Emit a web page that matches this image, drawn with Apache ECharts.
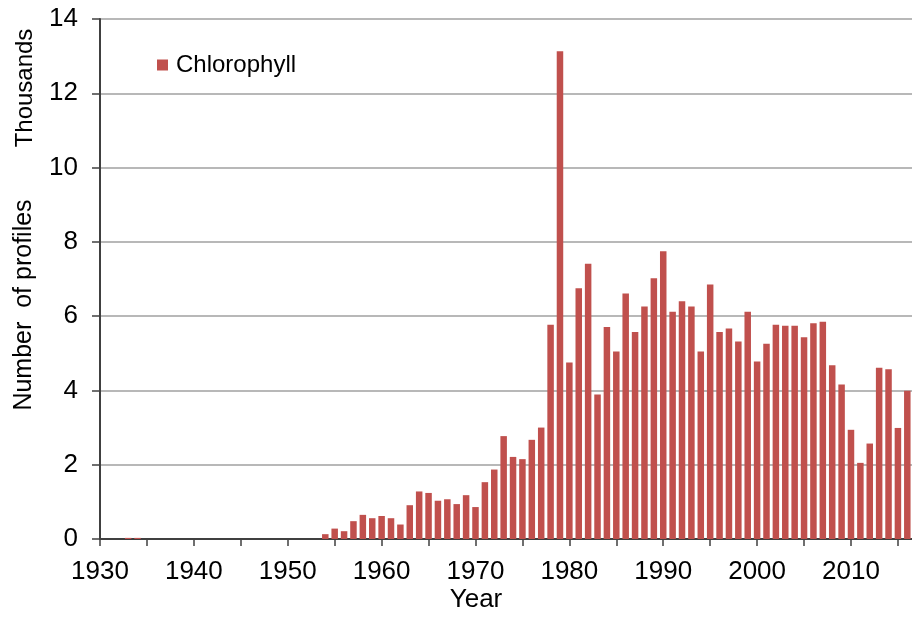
<!DOCTYPE html>
<html>
<head>
<meta charset="utf-8">
<title>Chlorophyll profiles per year</title>
<script src="https://cdn.jsdelivr.net/npm/echarts@6/dist/echarts.min.js"></script>
<style>
    html, body { margin: 0; padding: 0; background: #fff; }
    #chart { width: 912px; height: 618px; }
</style>
</head>
<body>
<div id="chart"></div>
<script>
// number of profiles per year, in thousands
const years = [
    1933, 1934,
    1954, 1955, 1956, 1957, 1958, 1959, 1960, 1961, 1962, 1963,
    1964, 1965, 1966, 1967, 1968, 1969, 1970, 1971, 1972, 1973,
    1974, 1975, 1976, 1977, 1978, 1979, 1980, 1981, 1982, 1983,
    1984, 1985, 1986, 1987, 1988, 1989, 1990, 1991, 1992, 1993,
    1994, 1995, 1996, 1997, 1998, 1999, 2000, 2001, 2002, 2003,
    2004, 2005, 2006, 2007, 2008, 2009, 2010, 2011, 2012, 2013,
    2014, 2015, 2016,
];
const chlorophyll = [
    0.03, 0.03,
    0.13, 0.28, 0.21, 0.48, 0.65, 0.56, 0.62, 0.56, 0.39, 0.91,
    1.28, 1.24, 1.03, 1.07, 0.94, 1.18, 0.86, 1.53, 1.87, 2.77,
    2.21, 2.15, 2.67, 3.00, 5.77, 13.13, 4.75, 6.75, 7.41, 3.89,
    5.71, 5.05, 6.61, 5.57, 6.26, 7.02, 7.75, 6.12, 6.40, 6.26,
    5.05, 6.85, 5.57, 5.67, 5.32, 6.12, 4.78, 5.26, 5.77, 5.74,
    5.74, 5.43, 5.81, 5.85, 4.68, 4.16, 2.94, 2.05, 2.57, 4.61,
    4.57, 2.99, 3.99,
];
const yTicks = [0, 2, 4, 6, 8, 10, 12, 14];

const FONT = "Liberation Sans, Arial, sans-serif";
const BAR_COLOR = "#C0504D";

let chartDom = document.getElementById("chart");
let myChart = echarts.init(chartDom);

let seriesData = years.map((y, i) => [y, chlorophyll[i]]);

let option = {
    animation: false,
    textStyle: { fontFamily: FONT },
    grid: {
        left: 100,
        right: 0,
        top: 19,
        bottom: 79,
        containLabel: false,
    },
    legend: {
        left: 152,
        top: 48,
        icon: "rect",
        itemWidth: 11,
        itemHeight: 11,
        textStyle: {
            fontSize: 24,
            color: "#000",
            fontFamily: FONT,
            padding: [0, 0, 0, 3],
        },
        data: ["Chlorophyll"],
    },
    xAxis: {
        type: "value",
        min: 1930,
        max: 2016.5,
        interval: 5,
        splitLine: { show: false },
        axisLine: { show: true, lineStyle: { color: "#404040", width: 2 } },
        axisTick: { show: true, length: 7, lineStyle: { color: "#404040", width: 1.5 } },
        axisLabel: {
            margin: 20,
            fontSize: 26,
            color: "#000",
            showMaxLabel: false,
            formatter: (v) => (v % 10 === 0 ? String(v) : ""),
        },
    },
    yAxis: {
        type: "value",
        min: yTicks[0],
        max: yTicks[yTicks.length - 1],
        interval: 2,
        axisLine: { show: true, lineStyle: { color: "#404040", width: 2 } },
        axisTick: { show: true, length: 8, lineStyle: { color: "#404040", width: 1.5 } },
        axisLabel: { margin: 22, fontSize: 26, color: "#000" },
        splitLine: { show: true, lineStyle: { color: "#a0a0a0", width: 1.5 } },
    },
    graphic: [
        {
            type: "text",
            x: 25,
            y: 88,
            rotation: Math.PI / 2,
            style: {
                text: "Thousands",
                font: "24px " + FONT,
                fill: "#000",
                align: "center",
                verticalAlign: "middle",
            },
        },
        {
            type: "text",
            x: 24,
            y: 305,
            rotation: Math.PI / 2,
            style: {
                text: "Number  of profiles",
                font: "25px " + FONT,
                fill: "#000",
                align: "center",
                verticalAlign: "middle",
            },
        },
        {
            type: "text",
            x: 476,
            y: 600,
            style: {
                text: "Year",
                font: "26px " + FONT,
                fill: "#000",
                align: "center",
                verticalAlign: "middle",
            },
        },
    ],
    series: [
        {
            name: "Chlorophyll",
            type: "bar",
            data: seriesData,
            barWidth: 6.5,
            itemStyle: { color: BAR_COLOR },
        },
    ],
};

option && myChart.setOption(option);
</script>
</body>
</html>
